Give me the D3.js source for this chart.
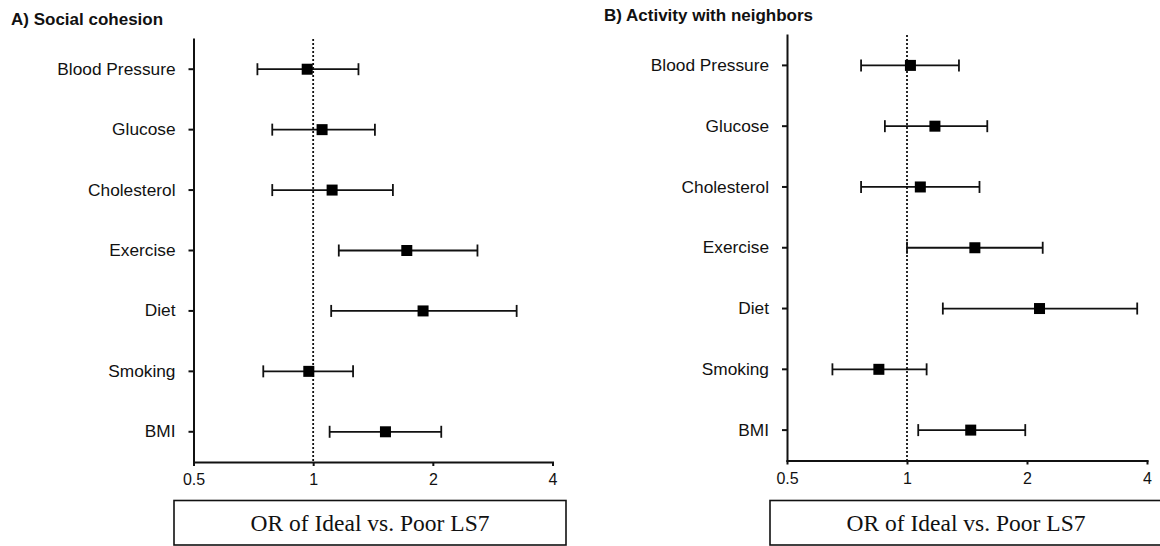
<!DOCTYPE html>
<html>
<head>
<meta charset="utf-8">
<script src="https://cdn.jsdelivr.net/npm/d3@7"></script>
<style>
  body { margin: 0; background: #fff; }
  svg { display: block; }
  .axis path, .axis line { stroke: #111; stroke-width: 2px; }
  .axis text { font-family: "Liberation Sans", Arial, sans-serif; fill: #111; }
  .panel-title { font-family: "Liberation Sans", Arial, sans-serif; font-weight: bold; font-size: 17px; fill: #111; }
  .box-label { font-family: "Liberation Serif", "Times New Roman", serif; font-size: 23.5px; fill: #111; }
</style>
</head>
<body>
<div id="chart"></div>
<script>
// Categories (top to bottom) and x tick values
const categories = ["Blood Pressure", "Glucose", "Cholesterol", "Exercise", "Diet", "Smoking", "BMI"];
const xTicks = [0.5, 1, 2, 4];

// A) Social cohesion - odds ratios with 95% CI
const cohesionOR = [0.966, 1.053, 1.116, 1.72, 1.89, 0.975, 1.52];
const cohesionLower = [0.724, 0.789, 0.789, 1.16, 1.11, 0.749, 1.10];
const cohesionUpper = [1.30, 1.43, 1.587, 2.59, 3.25, 1.26, 2.10];

// B) Activity with neighbors - odds ratios with 95% CI
const activityOR = [1.02, 1.175, 1.08, 1.48, 2.15, 0.85, 1.445];
const activityLower = [0.767, 0.88, 0.767, 1.0, 1.23, 0.65, 1.067];
const activityUpper = [1.35, 1.59, 1.52, 2.19, 3.78, 1.12, 1.98];

const svg = d3.select("#chart")
  .append("svg")
  .attr("width", 1160)
  .attr("height", 546);

/*
 * ForestVis - one forest plot panel
 */
class ForestVis {
  constructor(_svg, _config, _or, _lower, _upper) {
    this.svg = _svg;
    this.config = _config;
    this.displayData = categories.map((c, i) => ({
      category: c, or: _or[i], lower: _lower[i], upper: _upper[i]
    }));
    this.initVis();
  }

  initVis() {
    let vis = this;
    let c = vis.config;

    vis.g = vis.svg.append("g");

    // Scales
    vis.x = d3.scaleLog().base(2).domain([0.5, 4]).range([c.left, c.right]);
    vis.y = d3.scaleBand().domain(categories).range([c.top, c.bottom]);

    // Title
    vis.g.append("text")
      .attr("class", "panel-title")
      .attr("x", c.titleX)
      .attr("y", c.titleY)
      .text(c.title);

    // Reference line at OR = 1
    vis.g.append("line")
      .attr("x1", vis.x(1)).attr("x2", vis.x(1))
      .attr("y1", c.top).attr("y2", c.bottom)
      .attr("stroke", "#111")
      .attr("stroke-width", 1.8)
      .attr("stroke-dasharray", "2,2");

    // Axes
    vis.xAxis = d3.axisBottom(vis.x)
      .tickValues(xTicks)
      .tickFormat(d3.format("~g"))
      .tickSize(4)
      .tickSizeOuter(0);

    vis.yAxis = d3.axisLeft(vis.y)
      .tickSize(5)
      .tickSizeOuter(0)
      .tickPadding(13);

    vis.g.append("g")
      .attr("class", "x-axis axis")
      .attr("transform", "translate(0," + c.bottom + ")")
      .call(vis.xAxis)
      .selectAll("text")
      .style("font-size", "16px")
      .attr("dy", "0")
      .attr("y", 23);

    vis.g.append("g")
      .attr("class", "y-axis axis")
      .attr("transform", "translate(" + c.left + ",0)")
      .call(vis.yAxis)
      .selectAll("text")
      .style("font-size", "17.3px");

    vis.g.selectAll(".axis .domain").attr("stroke-linecap", "square");

    vis.updateVis();

    // Label box under the axis
    vis.g.append("rect")
      .attr("x", c.boxX)
      .attr("y", c.boxY)
      .attr("width", c.boxW)
      .attr("height", c.boxH)
      .attr("fill", "none")
      .attr("stroke", "#111")
      .attr("stroke-width", 1.6);

    vis.g.append("text")
      .attr("class", "box-label")
      .attr("x", c.boxX + c.boxW / 2)
      .attr("y", c.boxY + 30)
      .attr("text-anchor", "middle")
      .text("OR of Ideal vs. Poor LS7");
  }

  updateVis() {
    let vis = this;
    let half = vis.y.bandwidth() / 2;
    let capH = 6;
    let size = 11;

    let rows = vis.g.selectAll(".row")
      .data(vis.displayData)
      .join("g")
      .attr("class", "row")
      .attr("transform", (d) => `translate(0, ${vis.y(d.category) + half})`);

    // CI line
    rows.append("line")
      .attr("x1", (d) => vis.x(d.lower))
      .attr("x2", (d) => vis.x(d.upper))
      .attr("stroke", "#111")
      .attr("stroke-width", 1.8);

    // Caps
    rows.append("line")
      .attr("x1", (d) => vis.x(d.lower)).attr("x2", (d) => vis.x(d.lower))
      .attr("y1", -capH).attr("y2", capH)
      .attr("stroke", "#111").attr("stroke-width", 1.8);

    rows.append("line")
      .attr("x1", (d) => vis.x(d.upper)).attr("x2", (d) => vis.x(d.upper))
      .attr("y1", -capH).attr("y2", capH)
      .attr("stroke", "#111").attr("stroke-width", 1.8);

    // Point estimate
    rows.append("rect")
      .attr("x", (d) => vis.x(d.or) - size / 2)
      .attr("y", -size / 2)
      .attr("width", size)
      .attr("height", size)
      .attr("fill", "#000");
  }
}

new ForestVis(svg, {
  title: "A) Social cohesion", titleX: 11, titleY: 25,
  left: 193.5, right: 552.5, top: 39, bottom: 462,
  boxX: 174, boxY: 500.5, boxW: 392, boxH: 44.5
}, cohesionOR, cohesionLower, cohesionUpper);

new ForestVis(svg, {
  title: "B) Activity with neighbors", titleX: 604, titleY: 21,
  left: 787, right: 1147, top: 35, bottom: 460.5,
  boxX: 770, boxY: 500.5, boxW: 392, boxH: 44.5
}, activityOR, activityLower, activityUpper);
</script>
</body>
</html>
